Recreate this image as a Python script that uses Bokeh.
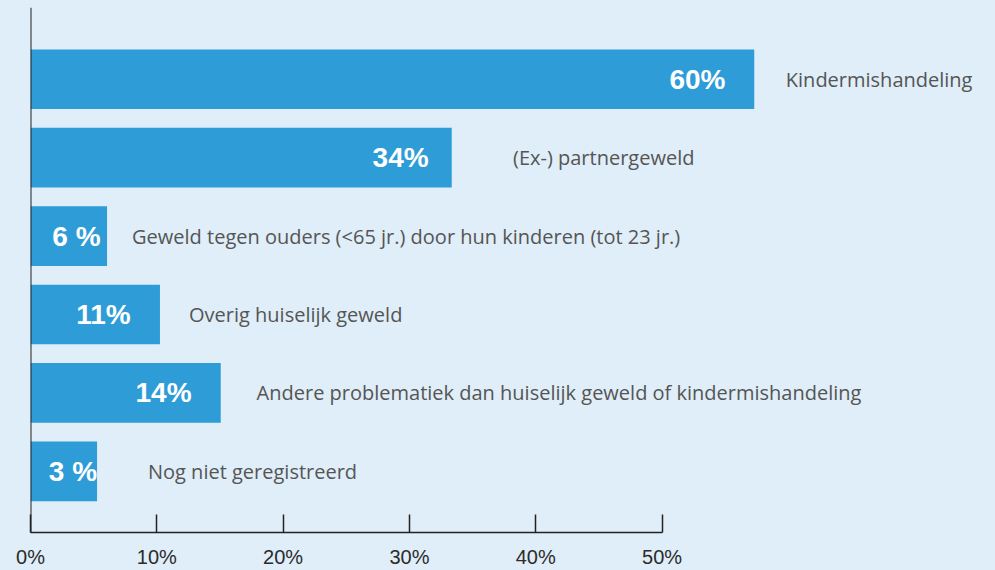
import numpy as np
from bokeh.plotting import figure
from bokeh.models import Range1d, FixedTicker, Span, ColumnDataSource
from bokeh.core.properties import value
from bokeh.embed import file_html
from bokeh.resources import INLINE

# ---- data (top row first) ----
categories = [
    "Kindermishandeling",
    "(Ex-) partnergeweld",
    "Geweld tegen ouders (<65 jr.) door hun kinderen (tot 23 jr.)",
    "Overig huiselijk geweld",
    "Andere problematiek dan huiselijk geweld of kindermishandeling",
    "Nog niet geregistreerd",
]
value_labels = ["60%", "34%", "6 %", "11%", "14%", "3 %"]
bar_lengths = [57.3, 33.35, 6.06, 10.25, 15.06, 5.27]
value_label_x = [52.8, 29.3, 3.64, 5.78, 10.53, 3.36]
category_label_x = [59.8, 38.2, 8.04, 12.55, 17.9, 9.3]
ticks = [0, 10, 20, 30, 40, 50]
tick_labels = ["0%", "10%", "20%", "30%", "40%", "50%"]

BG = "#dfeef8"
BAR = "#2e9cd7"

n = len(categories)
ypos = list(range(n - 1, -1, -1))

src = ColumnDataSource(dict(
    y=ypos, length=bar_lengths, vx=value_label_x, vlab=value_labels,
    cx=category_label_x, cat=categories,
))

p = figure(
    width=995, height=570,
    x_range=Range1d(0, 76.4), y_range=Range1d(-0.78, 5.915),
    y_axis_type=None,
    output_backend="svg", toolbar_location=None,
    min_border_left=30, min_border_right=0, min_border_top=7, min_border_bottom=36,
    background_fill_color=BG, border_fill_color=BG, outline_line_color=None,
)
p.xgrid.visible = False

p.hbar(y="y", left=0, right="length", height=0.76, fill_color=BAR, line_color=None, source=src)

p.text(x="vx", y="y", text="vlab", source=src,
       text_font=value("Liberation Sans"), text_font_style="bold", text_font_size="28px",
       text_color="white", text_align="center", text_baseline="middle")

p.text(x="cx", y="y", text="cat", source=src,
       text_font=value("Open Sans"), text_font_size="20px",
       text_color="#555555", text_align="left", text_baseline="middle")

ax = p.xaxis[0]
ax.ticker = FixedTicker(ticks=ticks)
ax.major_label_overrides = {t: l for t, l in zip(ticks, tick_labels)}
ax.bounds = (0, 50)
ax.major_tick_in = 18
ax.major_tick_out = 0
ax.minor_tick_line_color = None
ax.axis_line_color = "#222222"
ax.axis_line_width = 1.5
ax.major_tick_line_color = "#222222"
ax.major_tick_line_width = 1.5
ax.major_label_text_font = "Liberation Sans"
ax.major_label_text_font_size = "20px"
ax.major_label_text_color = "#2b2b2b"
ax.major_label_standoff = 13

p.add_layout(Span(location=0, dimension="height", line_color="#222222", line_width=2))

html = file_html(p, INLINE)
html = html.replace("</head>", "<style>body{background:#dfeef8;}</style></head>", 1)
open("out.html", "w").write(html)
